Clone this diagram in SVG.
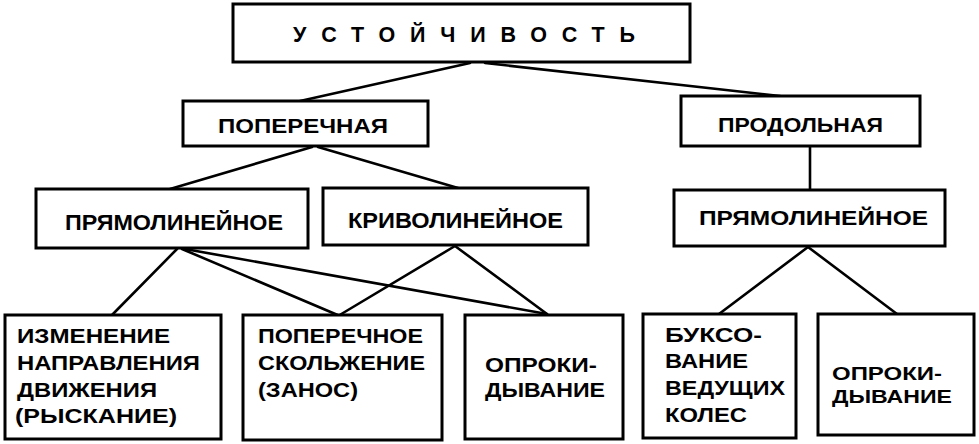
<svg xmlns="http://www.w3.org/2000/svg" width="979" height="444" viewBox="0 0 979 444">
<style>
  .box { fill: #ffffff; stroke: #000000; stroke-width: 3; }
  .line { stroke: #000000; stroke-width: 2.6; fill: none; stroke-linecap: round; }
  text { font-family: "Liberation Sans", Arial, sans-serif; font-weight: bold; fill: #000000; }
  .t19 { font-size: 19px; }
  .t20 { font-size: 20px; }
  .t21 { font-size: 21px; }
  .t22 { font-size: 22px; }
</style>
<rect x="0" y="0" width="979" height="444" fill="#ffffff"/>
<g id="connectors">
  <line class="line" x1="470" y1="63" x2="300" y2="101"/>
  <line class="line" x1="485" y1="63" x2="780" y2="96"/>
  <line class="line" x1="312" y1="147" x2="170" y2="189"/>
  <line class="line" x1="318" y1="147" x2="458" y2="188"/>
  <line class="line" x1="810" y1="146" x2="810" y2="190"/>
  <line class="line" x1="177" y1="249" x2="112" y2="315"/>
  <line class="line" x1="182" y1="249" x2="340" y2="316"/>
  <line class="line" x1="185" y1="249" x2="547" y2="314"/>
  <line class="line" x1="455" y1="246" x2="338" y2="316"/>
  <line class="line" x1="455" y1="246" x2="547" y2="314"/>
  <line class="line" x1="808" y1="247" x2="719" y2="314"/>
  <line class="line" x1="808" y1="247" x2="897" y2="314"/>
</g>
<g id="n-ustoychivost">
  <rect class="box" x="233" y="4" width="457" height="58"/>
  <text x="293" y="42" font-size="21.5" textLength="342" lengthAdjust="spacing">УСТОЙЧИВОСТЬ</text>
</g>
<g id="n-poperechnaya">
  <rect class="box" x="183" y="101" width="245" height="45"/>
  <text class="t20" x="218" y="133" textLength="170" lengthAdjust="spacingAndGlyphs">ПОПЕРЕЧНАЯ</text>
</g>
<g id="n-prodolnaya">
  <rect class="box" x="681" y="96" width="239" height="50"/>
  <text class="t20" x="718" y="132" textLength="165" lengthAdjust="spacingAndGlyphs">ПРОДОЛЬНАЯ</text>
</g>
<g id="n-pryamolineynoe-1">
  <rect class="box" x="36" y="189" width="272" height="59"/>
  <text class="t22" x="65" y="230" textLength="218" lengthAdjust="spacingAndGlyphs">ПРЯМОЛИНЕЙНОЕ</text>
</g>
<g id="n-krivolineynoe">
  <rect class="box" x="323" y="188" width="265" height="57"/>
  <text class="t22" x="348" y="228" textLength="215" lengthAdjust="spacingAndGlyphs">КРИВОЛИНЕЙНОЕ</text>
</g>
<g id="n-pryamolineynoe-2">
  <rect class="box" x="674" y="190" width="271" height="56"/>
  <text class="t21" x="699" y="225" textLength="229" lengthAdjust="spacingAndGlyphs">ПРЯМОЛИНЕЙНОЕ</text>
</g>
<g id="n-izmenenie">
  <rect class="box" x="5" y="315" width="216" height="124"/>
  <text class="t21" x="17" y="343" textLength="153" lengthAdjust="spacingAndGlyphs">ИЗМЕНЕНИЕ</text>
  <text class="t21" x="17" y="370" textLength="183" lengthAdjust="spacingAndGlyphs">НАПРАВЛЕНИЯ</text>
  <text class="t21" x="17" y="397" textLength="140" lengthAdjust="spacingAndGlyphs">ДВИЖЕНИЯ</text>
  <text class="t21" x="15" y="423" textLength="162" lengthAdjust="spacingAndGlyphs">(РЫСКАНИЕ)</text>
</g>
<g id="n-skolzhenie">
  <rect class="box" x="243" y="315" width="199" height="125"/>
  <text class="t21" x="258" y="343" textLength="165" lengthAdjust="spacingAndGlyphs">ПОПЕРЕЧНОЕ</text>
  <text class="t21" x="258" y="370" textLength="167" lengthAdjust="spacingAndGlyphs">СКОЛЬЖЕНИЕ</text>
  <text class="t21" x="258" y="397" textLength="100" lengthAdjust="spacingAndGlyphs">(ЗАНОС)</text>
</g>
<g id="n-oprokidyvanie-1">
  <rect class="box" x="465" y="315" width="158" height="124"/>
  <text class="t21" x="485" y="372" textLength="112" lengthAdjust="spacingAndGlyphs">ОПРОКИ-</text>
  <text class="t21" x="485" y="397" textLength="120" lengthAdjust="spacingAndGlyphs">ДЫВАНИЕ</text>
</g>
<g id="n-buksovanie">
  <rect class="box" x="643" y="314" width="153" height="124"/>
  <text class="t20" x="665" y="342" textLength="97" lengthAdjust="spacingAndGlyphs">БУКСО-</text>
  <text class="t20" x="665" y="368" textLength="83" lengthAdjust="spacingAndGlyphs">ВАНИЕ</text>
  <text class="t20" x="665" y="395" textLength="120" lengthAdjust="spacingAndGlyphs">ВЕДУЩИХ</text>
  <text class="t20" x="665" y="422" textLength="82" lengthAdjust="spacingAndGlyphs">КОЛЕС</text>
</g>
<g id="n-oprokidyvanie-2">
  <rect class="box" x="818" y="314" width="156" height="121"/>
  <text class="t19" x="832" y="380" textLength="110" lengthAdjust="spacingAndGlyphs">ОПРОКИ-</text>
  <text class="t19" x="832" y="403" textLength="120" lengthAdjust="spacingAndGlyphs">ДЫВАНИЕ</text>
</g>
</svg>
